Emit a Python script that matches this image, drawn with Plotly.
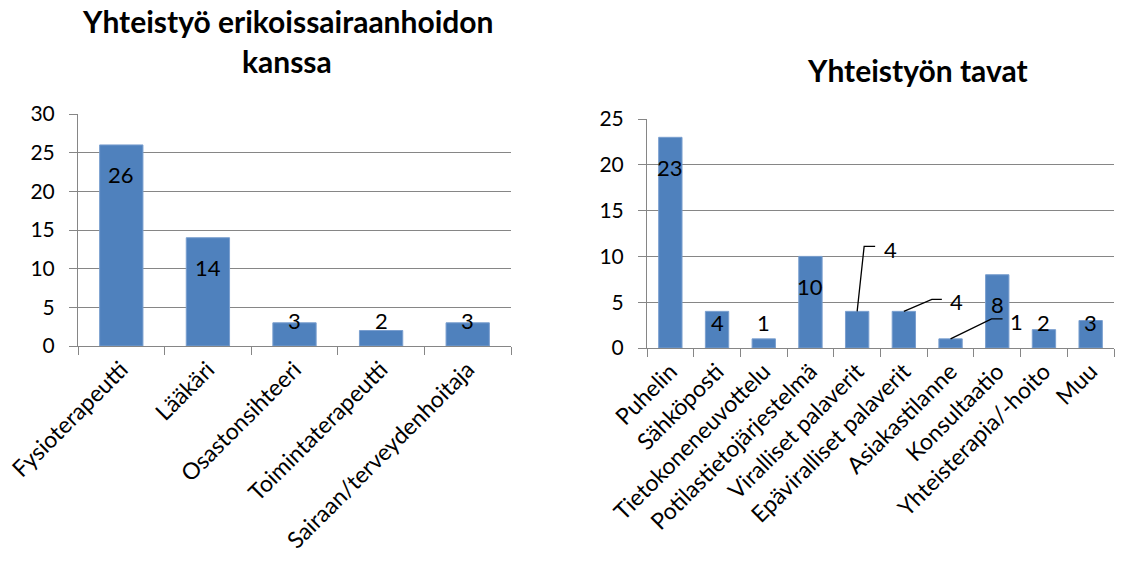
import plotly.graph_objects as go

# --- data -----------------------------------------------------------------
title_left_1 = "Yhteistyö erikoissairaanhoidon"
title_left_2 = "kanssa"
title_right = "Yhteistyön tavat"

roles = ["Fysioterapeutti", "Lääkäri", "Osastonsihteeri",
         "Toimintaterapeutti", "Sairaan/terveydenhoitaja"]
role_counts = [26, 14, 3, 2, 3]

methods = ["Puhelin", "Sähköposti", "Tietokoneneuvottelu",
           "Potilastietojärjestelmä", "Viralliset palaverit",
           "Epäviralliset palaverit", "Asiakastilanne", "Konsultaatio",
           "Yhteisterapia/-hoito", "Muu"]
method_counts = [23, 4, 1, 10, 4, 4, 1, 8, 2, 3]

left_ticks = [0, 5, 10, 15, 20, 25, 30]
right_ticks = [0, 5, 10, 15, 20, 25]

# --- styling ----------------------------------------------------------------
W, H = 1125, 575
FONT = "Lato"
BAR = "#4F81BD"
GRID = "#868686"
XTICK_SIZE = 23
YTICK_SIZE = 21
LABEL_SIZE = 22
TITLE_SIZE = 30

left_dom_x = [78 / W, 511 / W]
left_dom_y = [1 - 346 / H, 1 - 114 / H]
right_dom_x = [647 / W, 1114 / W]
right_dom_y = [1 - 348 / H, 1 - 119 / H]

fig = go.Figure()
fig.add_trace(go.Bar(x=roles, y=role_counts, marker_color=BAR,
                     marker_line=dict(color="#7a9fcf", width=1),
                     xaxis="x", yaxis="y", hoverinfo="x+y"))
fig.add_trace(go.Bar(x=methods, y=method_counts, marker_color=BAR,
                     marker_line=dict(color="#7a9fcf", width=1),
                     xaxis="x2", yaxis="y2", hoverinfo="x+y"))

axis_common = dict(
    showgrid=False, showline=True, linecolor=GRID, linewidth=1,
    ticks="outside", tickcolor=GRID, ticklen=8, tickson="boundaries",
    tickangle=-45, tickfont=dict(family=FONT, size=XTICK_SIZE, color="black"),
    fixedrange=True, automargin=False,
)
yaxis_common = dict(
    showgrid=True, gridcolor=GRID, gridwidth=1, showline=True,
    linecolor=GRID, linewidth=1, ticks="outside", tickcolor=GRID, ticklen=8,
    tickfont=dict(family=FONT, size=YTICK_SIZE, color="black"),
    zeroline=False, ticklabelstandoff=10, fixedrange=True, automargin=False,
)

fig.update_layout(
    width=W, height=H, margin=dict(l=0, r=0, t=0, b=0),
    paper_bgcolor="white", plot_bgcolor="white", showlegend=False,
    bargap=0.5,
    xaxis=dict(domain=left_dom_x, anchor="y", **axis_common),
    yaxis=dict(domain=left_dom_y, anchor="x", range=[0, 30],
               tickvals=left_ticks, **yaxis_common),
    xaxis2=dict(domain=right_dom_x, anchor="y2", **axis_common),
    yaxis2=dict(domain=right_dom_y, anchor="x2", range=[0, 25],
                tickvals=right_ticks, **yaxis_common),
)

# --- titles -----------------------------------------------------------------
title_font = dict(family=FONT, size=TITLE_SIZE, color="black")
fig.add_annotation(text=f"<b>{title_left_1}</b>", xref="paper", yref="paper",
                   x=287 / W, y=1 - 21 / H, showarrow=False, font=title_font,
                   xanchor="center", yanchor="middle")
fig.add_annotation(text=f"<b>{title_left_2}</b>", xref="paper", yref="paper",
                   x=287 / W, y=1 - 61 / H, showarrow=False, font=title_font,
                   xanchor="center", yanchor="middle")
fig.add_annotation(text=f"<b>{title_right}</b>", xref="paper", yref="paper",
                   x=918 / W, y=1 - 70 / H, showarrow=False, font=title_font,
                   xanchor="center", yanchor="middle")

# --- value labels -----------------------------------------------------------
label_font = dict(family=FONT, size=LABEL_SIZE, color="black")


def inside_end_labels(cats, vals, xref, yref, dom_y, ymax):
    px_per_unit = (dom_y[1] - dom_y[0]) * H / ymax
    for c, v in zip(cats, vals):
        if v * px_per_unit - 30 >= 25:
            fig.add_annotation(x=c, y=v, xref=xref, yref=yref, text=str(v),
                               showarrow=False, yshift=-30, font=label_font,
                               yanchor="middle")
        else:
            fig.add_annotation(x=c, y=0, xref=xref, yref=yref, text=str(v),
                               showarrow=False, yshift=26, font=label_font,
                               yanchor="middle")


inside_end_labels(roles, role_counts, "x", "y", left_dom_y, 30)

# labels on the right chart: three are moved out and joined with leader lines
leader = {
    "Viralliset palaverit": ((7, 65), (18, 65), (33, 62)),
    "Epäviralliset palaverit": ((28, 12), (38, 12), (53, 10)),
    "Asiakastilanne": ((41, 20), (52, 20), (66, 17)),
}
plain_cats = [c for c in methods if c not in leader]
plain_vals = [v for c, v in zip(methods, method_counts) if c not in leader]
inside_end_labels(plain_cats, plain_vals, "x2", "y2", right_dom_y, 25)

for c, v in zip(methods, method_counts):
    if c not in leader:
        continue
    (ex, ey), (hx, hy), (lx, ly) = leader[c]
    fig.add_shape(type="path", xref="x2", yref="y2",
                  xsizemode="pixel", ysizemode="pixel",
                  xanchor=c, yanchor=v,
                  path=f"M0,0 L{ex},{ey} L{hx},{hy}",
                  line=dict(color="black", width=1.3))
    fig.add_annotation(x=c, y=v, xref="x2", yref="y2", text=str(v),
                       showarrow=False, xshift=lx, yshift=ly,
                       font=label_font, yanchor="middle")

fig.write_html("out.html")
